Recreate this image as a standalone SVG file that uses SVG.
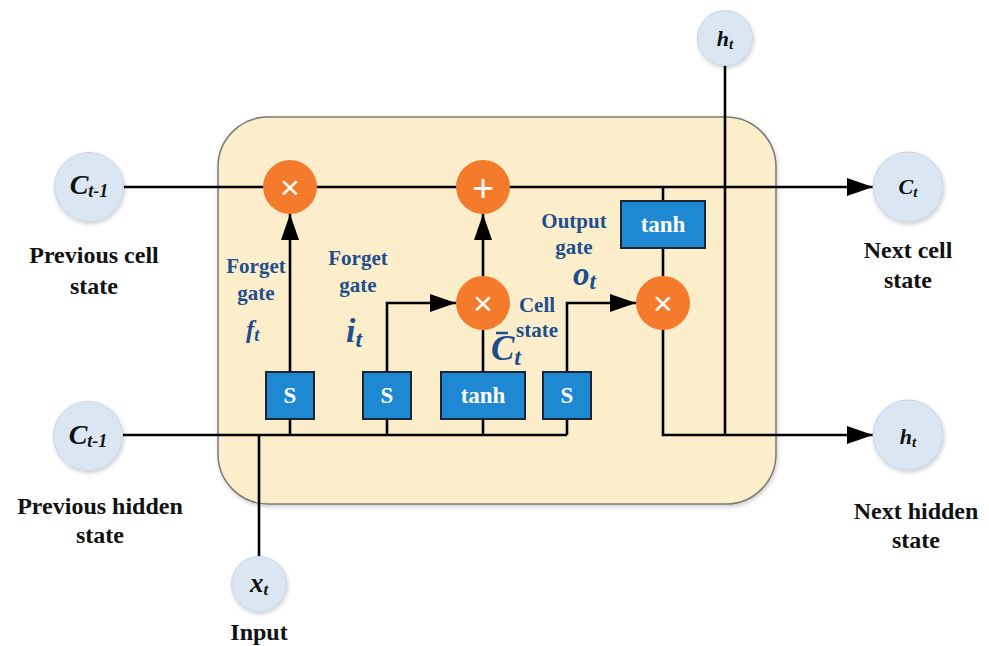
<svg xmlns="http://www.w3.org/2000/svg" width="989" height="646" viewBox="0 0 989 646">
<defs>
<marker id="arr" viewBox="0 0 26 18" refX="26" refY="9" markerWidth="26" markerHeight="18" markerUnits="userSpaceOnUse" orient="auto">
<path d="M0,0 L26,9 L0,18 z" fill="#000"/>
</marker>
<filter id="sh" x="-30%" y="-30%" width="160%" height="160%">
<feGaussianBlur in="SourceAlpha" stdDeviation="2"/>
<feOffset dx="1" dy="2"/>
<feComponentTransfer><feFuncA type="linear" slope="0.2"/></feComponentTransfer>
<feMerge><feMergeNode/><feMergeNode in="SourceGraphic"/></feMerge>
</filter>
</defs>
<style>
.cell{fill:#fdeecb;stroke:#7a7a7a;stroke-width:1.5}
.io{fill:#dae7f3;stroke:#c6d6e6;stroke-width:1}
.op{fill:#f47a2c}
.box{fill:#1e88d2;stroke:#1a2433;stroke-width:2}
.ln{fill:none;stroke:#000;stroke-width:2.6}
.lbl{font-family:"Liberation Serif","Times New Roman",serif;font-weight:bold;font-size:24px;fill:#111;text-anchor:middle}
.blue{font-family:"Liberation Serif","Times New Roman",serif;font-weight:bold;font-size:21px;fill:#1f4e8f;text-anchor:middle}
.math{font-family:"Liberation Serif","Times New Roman",serif;font-weight:bold;font-style:italic;fill:#111;text-anchor:middle}
.bmath{font-family:"Liberation Serif","Times New Roman",serif;font-weight:bold;font-style:italic;fill:#1f4e8f}
.bt{font-family:"Liberation Serif","Times New Roman",serif;font-weight:bold;font-size:23px;fill:#fff;text-anchor:middle}
.sym{font-family:"Liberation Sans",Arial,sans-serif;fill:#fff;text-anchor:middle}
</style>
<rect width="989" height="646" fill="#fff"/>
<g id="cell-body">
<rect class="cell" x="218" y="117" width="558" height="387" rx="50" ry="50" filter="url(#sh)"/>
</g>
<g id="connectors">
<path class="ln" d="M123,187 H873" marker-end="url(#arr)"/>
<path class="ln" d="M123,435 H567"/>
<path class="ln" d="M259,557 V435"/>
<path class="ln" d="M290,435 V419"/>
<path class="ln" d="M290,372 V214" marker-end="url(#arr)"/>
<path class="ln" d="M387,435 V419"/>
<path class="ln" d="M387,372 V303 H456" marker-end="url(#arr)"/>
<path class="ln" d="M483,435 V419"/>
<path class="ln" d="M483,372 V330"/>
<path class="ln" d="M483,276 V214" marker-end="url(#arr)"/>
<path class="ln" d="M567,435 V419"/>
<path class="ln" d="M567,372 V303 H636" marker-end="url(#arr)"/>
<path class="ln" d="M663,187 V201"/>
<path class="ln" d="M663,248 V276"/>
<path class="ln" d="M663,330 V435 H873" marker-end="url(#arr)"/>
<path class="ln" d="M725,435 V66"/>
</g>
<g id="prev-cell">
<circle class="io" cx="89" cy="187" r="34.5" filter="url(#sh)"/>
<text class="math" x="89" y="194" font-size="28">C<tspan font-size="18" dy="3">t-1</tspan></text>
<text class="lbl" x="94" y="263">Previous cell</text>
<text class="lbl" x="94" y="294">state</text>
</g>
<g id="prev-hidden">
<circle class="io" cx="88" cy="436" r="34.5" filter="url(#sh)"/>
<text class="math" x="88" y="444" font-size="28">C<tspan font-size="18" dy="3">t-1</tspan></text>
<text class="lbl" x="100" y="514">Previous hidden</text>
<text class="lbl" x="100" y="543">state</text>
</g>
<g id="input">
<circle class="io" cx="259" cy="584" r="27.5" filter="url(#sh)"/>
<text class="math" x="259" y="592" font-size="27">x<tspan font-size="17" dy="3">t</tspan></text>
<text class="lbl" x="259" y="640">Input</text>
</g>
<g id="next-cell">
<circle class="io" cx="908" cy="187" r="35" filter="url(#sh)"/>
<text class="math" x="908" y="194" font-size="22">C<tspan font-size="15" dy="3">t</tspan></text>
<text class="lbl" x="908" y="258">Next cell</text>
<text class="lbl" x="908" y="288">state</text>
</g>
<g id="next-hidden">
<circle class="io" cx="908" cy="435" r="35" filter="url(#sh)"/>
<text class="math" x="908" y="444" font-size="22">h<tspan font-size="15" dy="3">t</tspan></text>
<text class="lbl" x="916" y="519">Next hidden</text>
<text class="lbl" x="916" y="548">state</text>
</g>
<g id="h-out">
<circle class="io" cx="725" cy="38" r="27.5" filter="url(#sh)"/>
<text class="math" x="725" y="46" font-size="22">h<tspan font-size="15" dy="3">t</tspan></text>
</g>
<g id="forget-mult">
<circle class="op" cx="290" cy="187" r="27"/>
<text class="sym" x="290" y="199" font-size="34">×</text>
</g>
<g id="add">
<circle class="op" cx="483" cy="187" r="27"/>
<text class="sym" x="483" y="201" font-size="38">+</text>
</g>
<g id="input-mult">
<circle class="op" cx="483" cy="303" r="27"/>
<text class="sym" x="483" y="315" font-size="34">×</text>
</g>
<g id="output-mult">
<circle class="op" cx="663" cy="303" r="27"/>
<text class="sym" x="663" y="315" font-size="34">×</text>
</g>
<g id="sig-forget">
<rect class="box" x="266" y="372" width="48" height="47"/>
<text class="bt" x="290" y="403">S</text>
</g>
<g id="sig-input">
<rect class="box" x="363" y="372" width="48" height="47"/>
<text class="bt" x="387" y="403">S</text>
</g>
<g id="tanh-cand">
<rect class="box" x="441" y="372" width="84" height="47"/>
<text class="bt" x="483" y="403">tanh</text>
</g>
<g id="sig-output">
<rect class="box" x="543" y="372" width="48" height="47"/>
<text class="bt" x="567" y="403">S</text>
</g>
<g id="tanh-out">
<rect class="box" x="621" y="201" width="84" height="47"/>
<text class="bt" x="663" y="232">tanh</text>
</g>
<g id="labels">
<text class="blue" x="256" y="273">Forget</text>
<text class="blue" x="256" y="300">gate</text>
<text class="bmath" x="246" y="338" font-size="25">f<tspan font-size="18" dy="3">t</tspan></text>
<text class="blue" x="358" y="265">Forget</text>
<text class="blue" x="358" y="292">gate</text>
<text class="bmath" x="346" y="342" font-size="34">i<tspan font-size="24" dy="5">t</tspan></text>
<text class="blue" x="574" y="228">Output</text>
<text class="blue" x="574" y="254">gate</text>
<text class="bmath" x="573" y="285" font-size="33">o<tspan font-size="23" dy="4">t</tspan></text>
<text class="blue" x="537" y="312">Cell</text>
<text class="blue" x="537" y="337">state</text>
<line x1="496" y1="333" x2="508" y2="333" stroke="#1f4e8f" stroke-width="2.5"/>
<text class="bmath" x="491" y="360" font-size="35">C<tspan font-size="24" dy="5">t</tspan></text>
</g>
</svg>
